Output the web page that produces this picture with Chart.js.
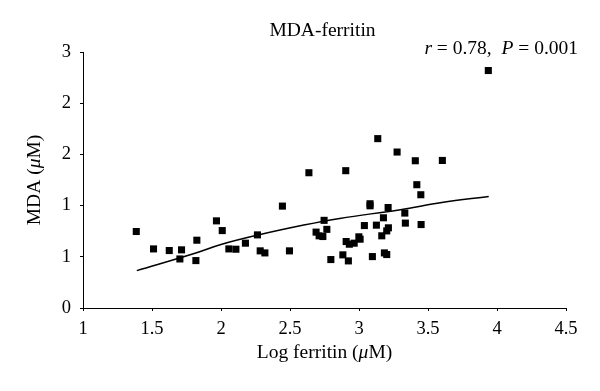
<!DOCTYPE html>
<html>
<head>
<meta charset="utf-8">
<script src="https://cdn.jsdelivr.net/npm/chart.js@4.4.0/dist/chart.umd.min.js"></script>
<style>
  html, body { margin: 0; padding: 0; background: #fff; }
  canvas { display: block; }
</style>
</head>
<body>
<canvas id="chart" width="600" height="391"></canvas>
<script>
// Data
const ferritinLog = [
  1.386, 1.511, 1.625, 1.714, 1.702, 1.825, 1.818, 1.967, 2.009, 2.057,
  2.108, 2.177, 2.264, 2.284, 2.318, 2.445, 2.496, 2.637, 2.689, 2.747,
  2.711, 2.738, 2.767, 2.796, 3.136, 3.276, 3.408, 3.604, 2.904, 3.419,
  3.448, 3.080, 3.080, 3.211, 3.332, 3.177, 3.336, 3.450, 3.039, 3.126,
  3.213, 3.201, 3.165, 2.999, 3.008, 2.907, 2.930, 2.965, 2.883, 2.923,
  3.097, 3.184, 3.201, 3.937
];
const mdaValues = [
  0.747, 0.577, 0.561, 0.568, 0.479, 0.662, 0.463, 0.851, 0.756, 0.577,
  0.574, 0.633, 0.714, 0.558, 0.538, 0.995, 0.558, 1.321, 0.741, 0.856,
  0.705, 0.698, 0.768, 0.473, 1.654, 1.523, 1.438, 1.441, 1.341, 1.204,
  1.106, 1.018, 0.998, 0.981, 0.927, 0.881, 0.829, 0.815, 0.805, 0.809,
  0.783, 0.753, 0.705, 0.695, 0.672, 0.649, 0.623, 0.633, 0.519, 0.460,
  0.502, 0.538, 0.522, 2.319
];
// fitted curve as drawn in the picture
const trendX = [1.39, 1.8, 2.0, 2.26, 2.6, 2.86, 3.3, 3.6, 3.94];
const trendY = [0.365, 0.53, 0.62, 0.71, 0.81, 0.875, 0.96, 1.03, 1.09];

const xTickLabels = ['1', '1.5', '2', '2.5', '3', '3.5', '4', '4.5'];
const yTickLabels = ['0', '1', '1', '2', '2', '3'];

const titleText = [{ t: 'MDA-ferritin' }];
const statText = [{ t: 'r', i: true }, { t: ' = 0.78,  ' }, { t: 'P', i: true }, { t: ' = 0.001' }];
const xTitleText = [{ t: 'Log ferritin (' }, { t: 'μ', i: true }, { t: 'M)' }];
const yTitleText = [{ t: 'MDA (' }, { t: 'μ', i: true }, { t: 'M)' }];

const FONT = '"Liberation Serif", "DejaVu Serif", serif';

function drawRich(ctx, parts, x, y, align) {
  const fontOf = p => (p.i ? 'italic ' : '') + '19.5px ' + FONT;
  let total = 0;
  parts.forEach(p => { ctx.font = fontOf(p); total += ctx.measureText(p.t).width; });
  let cx = align === 'right' ? x - total : align === 'center' ? x - total / 2 : x;
  ctx.textAlign = 'left';
  ctx.textBaseline = 'middle';
  parts.forEach(p => {
    ctx.font = fontOf(p);
    ctx.fillText(p.t, cx, y);
    cx += ctx.measureText(p.t).width;
  });
}

const textPlugin = {
  id: 'texts',
  afterDraw(chart) {
    const ctx = chart.ctx;
    const a = chart.chartArea;
    const mid = (a.left + a.right) / 2;
    ctx.save();
    ctx.fillStyle = '#000';
    drawRich(ctx, titleText, mid - 2, 31, 'center');
    drawRich(ctx, statText, 578, 49, 'right');
    drawRich(ctx, xTitleText, mid, 353, 'center');
    ctx.translate(35, (a.top + a.bottom) / 2);
    ctx.rotate(-Math.PI / 2);
    drawRich(ctx, yTitleText, 0, 0, 'center');
    ctx.restore();
  }
};

const points = ferritinLog.map((x, i) => ({ x: x, y: mdaValues[i] }));
const trend = trendX.map((x, i) => ({ x: x, y: trendY[i] }));

new Chart(document.getElementById('chart'), {
  type: 'scatter',
  data: {
    datasets: [
      {
        data: points,
        pointStyle: 'rect',
        pointRadius: 5,
        backgroundColor: '#000',
        borderColor: '#000',
        borderWidth: 0
      },
      {
        data: trend,
        showLine: true,
        borderColor: '#000',
        borderWidth: 1.5,
        pointRadius: 0,
        tension: 0.4,
        fill: false
      }
    ]
  },
  options: {
    responsive: false,
    animation: false,
    events: [],
    layout: { padding: { top: 52, right: 34, bottom: 0, left: 0 } },
    plugins: {
      legend: { display: false },
      tooltip: { enabled: false },
      title: { display: false }
    },
    scales: {
      x: {
        type: 'linear',
        min: 1,
        max: 4.5,
        afterFit: s => { s.height = 83; },
        border: { display: true, color: '#000', width: 1 },
        grid: { drawOnChartArea: false, drawTicks: true, tickLength: 3, color: '#000' },
        ticks: {
          stepSize: 0.5,
          padding: 7,
          color: '#000',
          font: { family: FONT, size: 18.5 },
          callback: (v, i) => xTickLabels[i]
        }
      },
      y: {
        min: 0,
        max: 2.5,
        afterFit: s => { s.width = 83; },
        border: { display: true, color: '#000', width: 1 },
        grid: { drawOnChartArea: false, drawTicks: true, tickLength: 3, color: '#000' },
        ticks: {
          stepSize: 0.5,
          padding: 9,
          color: '#000',
          font: { family: FONT, size: 18.5 },
          callback: (v, i) => yTickLabels[i]
        }
      }
    }
  },
  plugins: [textPlugin]
});
</script>
</body>
</html>
